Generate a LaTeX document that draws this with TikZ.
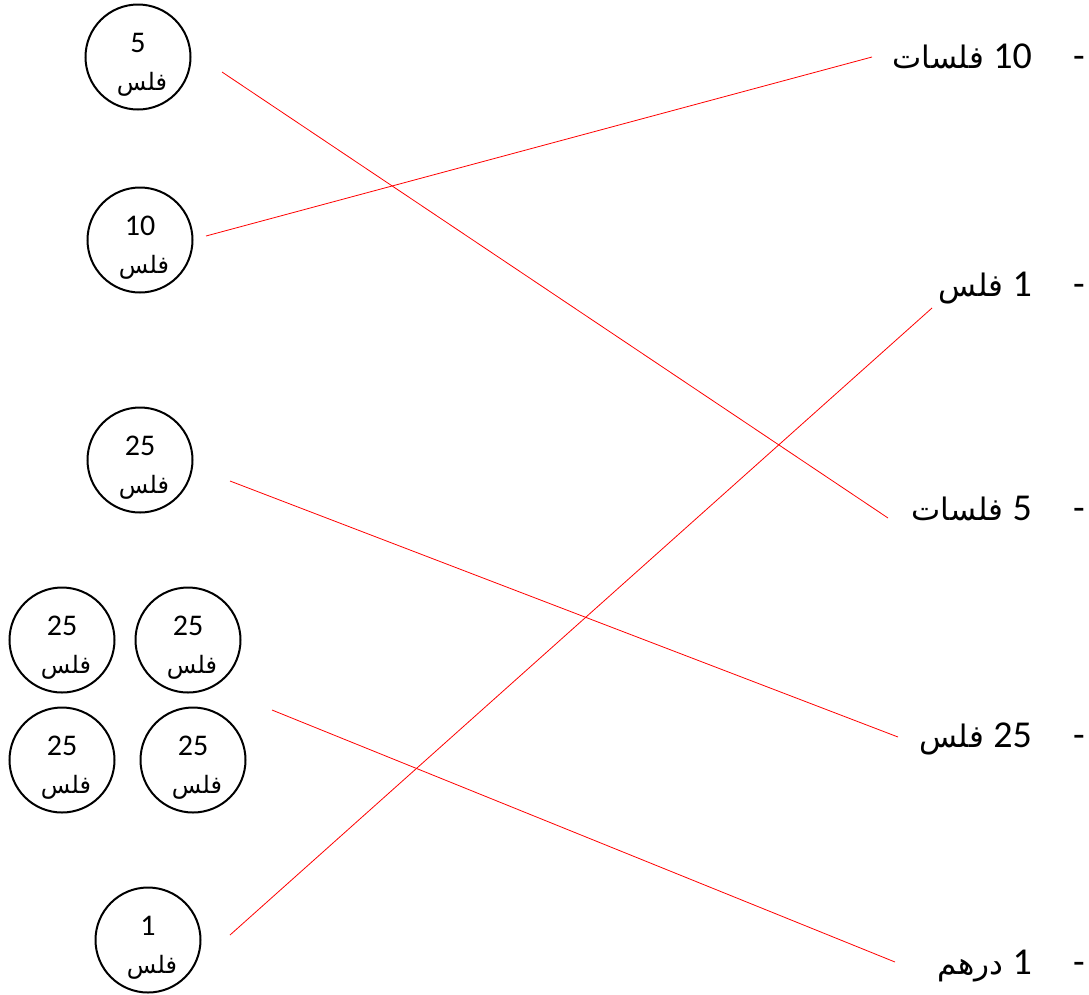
\documentclass[tikz,border=0pt]{standalone}
\usepackage{fontspec}
\setmainfont{Carlito}
\newfontfamily\arabicfont[Script=Arabic]{DejaVu Sans}
\TeXXeTstate=1
\begin{document}
\begin{tikzpicture}[x=1pt,y=-1pt,
  coin/.style={draw, line width=2pt, circle, minimum size=105pt, inner sep=0pt},
  coinnum/.style={font=\fontsize{30}{32}\selectfont, inner sep=0pt},
  coinword/.style={font=\fontsize{24}{28}\arabicfont, inner sep=0pt},
  rnum/.style={font=\fontsize{38}{42}\selectfont, anchor=base east, inner sep=0pt},
  rword/.style={font=\fontsize{31}{36}\arabicfont, anchor=base east, inner sep=0pt},
  rdash/.style={font=\fontsize{38}{42}\selectfont, anchor=base east, inner sep=0pt},
  link/.style={draw=red, line width=0.8pt}]
\useasboundingbox (0,0) rectangle (1089,994);
\newcommand{\coin}[4]{%
  \node[coin] (#1) at (#2,#3) {};
  \node[coinnum] (#1n) at ([yshift=14pt]#1.center) {#4};
  \node[coinword] (#1w) at ([xshift=4pt,yshift=-27pt]#1.center) {\beginR فلس\endR};}
\coin{c5}{138}{57}{5}
\coin{c10}{140}{240}{10}
\coin{c25}{140}{460}{25}
\coin{qa}{62}{640}{25}
\coin{qb}{188}{640}{25}
\coin{qc}{62}{760}{25}
\coin{qd}{193}{760}{25}
\coin{c1}{148}{940}{1}
\newcommand{\rlabel}[4]{%
  \node[rdash] (#1d) at (1085,#2) {-};
  \node[rnum] (#1n) at (1032,#2) {#3};
  \node[rword] (#1w) at ([xshift=-9pt]#1n.base west) {\beginR #4\endR};}
\rlabel{r10}{68}{10}{فلسات}
\rlabel{r1}{296}{1}{فلس}
\rlabel{r5}{520}{5}{فلسات}
\rlabel{r25}{747}{25}{فلس}
\rlabel{rd}{974}{1}{درهم}
\coordinate (a1) at (222,72);   \coordinate (b1) at (888,518);
\coordinate (a2) at (206,236);  \coordinate (b2) at (872,57);
\coordinate (a3) at (230,481);  \coordinate (b3) at (898,737);
\coordinate (a4) at (272,710);  \coordinate (b4) at (895,962);
\coordinate (a5) at (230,935);  \coordinate (b5) at (932,308);
\draw[link] (a1) -- (b1);
\draw[link] (a2) -- (b2);
\draw[link] (a3) -- (b3);
\draw[link] (a4) -- (b4);
\draw[link] (a5) -- (b5);
\end{tikzpicture}
\end{document}
